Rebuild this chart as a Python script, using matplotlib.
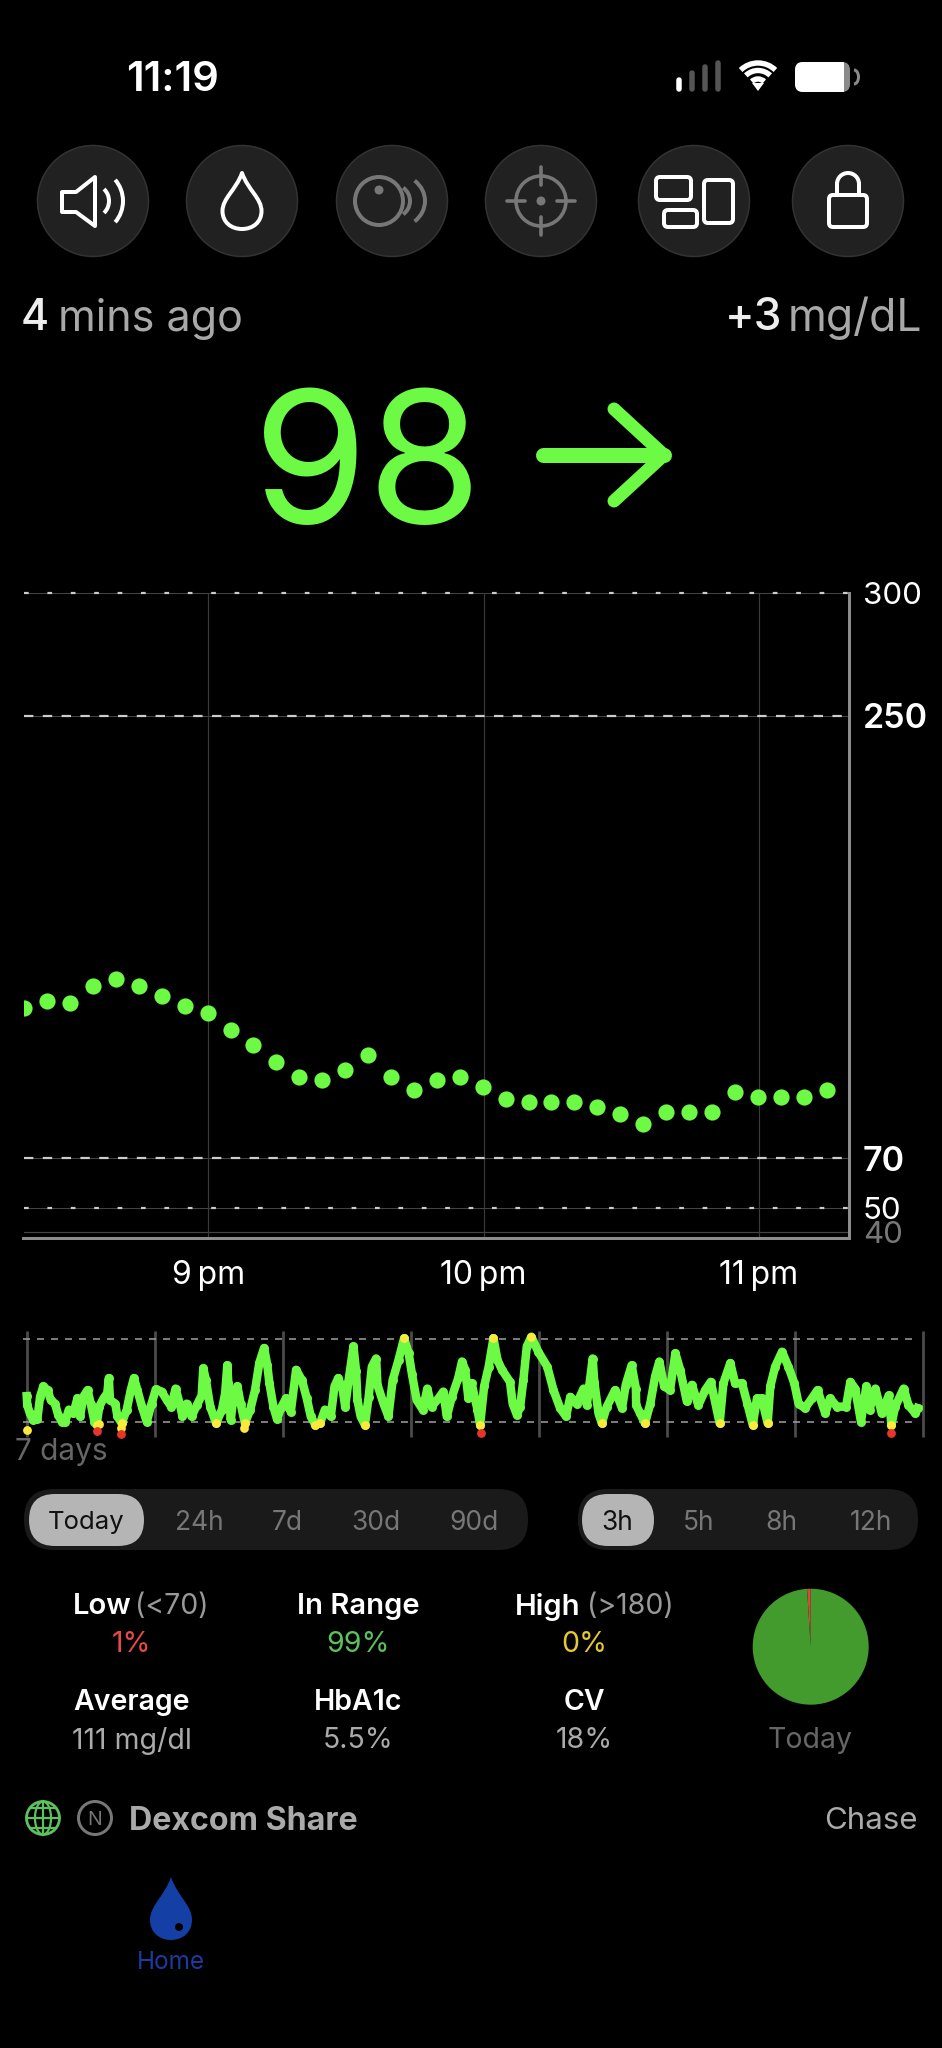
import matplotlib
matplotlib.use('Agg')
import matplotlib.pyplot as plt
from matplotlib.patches import Circle, Arc, FancyBboxPatch, PathPatch, Polygon, Rectangle
from matplotlib.path import Path

plt.rcParams['font.family'] = ['Inter', 'DejaVu Sans']
plt.rcParams['lines.scale_dashes'] = False
plt.rcParams['axes.unicode_minus'] = False

GREEN = '#6DFA45'
W, H = 942, 2048

# main chart: minutes after 9 pm, mg/dL
reading_minutes = [-40.2, -35.2, -30.2, -25.2, -20.2, -15.2, -10.2, -5.2, -0.2, 4.8, 9.8, 14.8,
                   19.8, 24.8, 29.8, 34.8, 39.8, 44.8, 49.8, 54.8, 59.8, 64.8, 69.8, 74.8,
                   79.8, 84.8, 89.8, 94.8, 99.8, 104.8, 109.8, 114.8, 119.8, 124.8, 129.8, 134.8]
reading_values = [131, 134, 133, 140, 143, 140, 136, 132, 129, 122, 116, 109,
                  103, 102, 106, 112, 103, 98, 102, 103, 99, 94, 93, 93,
                  93, 91, 88, 84, 89, 89, 89, 97, 95, 95, 95, 98]
main_yticks = [40, 50, 70, 250, 300]
main_xticks = [0, 60, 120]
main_xlabels = ['9\u2009pm', '10\u2009pm', '11\u2009pm']

# 7 day strip: hours since first tick, mg/dL
week_hours = [0.0, 0.1, 0.6, 1.25, 2.0, 2.5, 3.1, 3.9, 4.5, 5.3, 5.9, 6.6, 7.2, 7.9, 8.75, 9.5, 10.0, 10.6,
              11.4, 12.0, 12.7, 13.1, 13.6, 14.4, 15.1, 15.4, 15.6, 16.6, 17.0, 17.8, 18.75, 19.5, 20.1,
              20.75, 21.6, 22.5, 23.4, 24.2, 25.3, 26.25, 27.1, 27.9, 28.75, 29.2, 30.0, 30.9, 31.9, 32.8,
              33.1, 33.6, 34.4, 35.5, 36.6, 37.2, 37.6, 37.8, 38.25, 38.75, 39.5, 40.1, 40.9, 41.9, 42.8,
              43.6, 44.5, 45.1, 45.5, 46.25, 46.9, 47.8, 48.6, 49.5, 50.5, 51.6, 52.5, 53.25, 54.1, 55.0,
              55.9, 57.0, 57.7, 58.4, 59.25, 59.7, 60.3, 61.25, 61.75, 62.0, 62.6, 63.4, 64.1, 64.7, 65.5,
              65.75, 66.9, 67.8, 68.6, 69.7, 70.75, 71.6, 72.2, 73.1, 74.25, 75.1, 75.9, 77.2, 78.1, 78.75,
              79.7, 80.9, 81.6, 82.2, 82.8, 83.4, 84.5, 85.0, 85.75, 86.6, 87.5, 88.25, 89.1, 90.6, 91.1,
              91.9, 92.5, 93.1, 93.75, 94.6, 95.9, 97.6, 98.75, 100.0, 101.1, 101.9, 103.1, 104.4, 105.0,
              106.1, 106.4, 107.2, 107.8, 108.75, 110.3, 111.6, 112.3, 113.4, 114.2, 114.25, 115.0, 115.9,
              116.9, 117.8, 118.6, 119.5, 120.6, 121.6, 122.5, 123.75, 124.7, 125.9, 127.2, 128.25, 129.9,
              130.6, 131.9, 132.8, 134.1, 135.1, 136.1, 136.9, 137.8, 138.9, 139.4, 140.3, 141.6, 142.8,
              143.9, 144.7, 145.9, 147.2, 148.25, 149.7, 150.6, 151.9, 153.6, 154.4, 155.3, 156.4, 157.4,
              158.0, 159.1, 160.3, 161.6, 162.1, 162.8, 164.4, 165.3, 166.6, 167.0]
week_values = [104, 92, 81, 72, 74, 103, 117, 112, 99, 94, 79, 70, 70, 86, 81, 101, 77, 103,
               112, 94, 70, 66, 90, 101, 108, 128, 99, 94, 77, 68, 86, 112, 128,
               112, 90, 70, 94, 113, 110, 99, 90, 114, 92, 77, 94, 77, 92, 105,
               141, 125, 90, 68, 86, 108, 145, 121, 72, 103, 117, 94, 68, 86, 112,
               148, 168, 145, 121, 90, 74, 90, 101, 83, 139, 125, 101, 77, 66, 68,
               86, 77, 117, 128, 112, 90, 123, 170, 137, 99, 77, 66, 103, 143, 154,
               119, 94, 77, 125, 152, 181, 161, 134, 99, 86, 114, 90, 101, 110, 77,
               103, 128, 150, 139, 101, 121, 86, 66, 117, 143, 181, 152, 139, 123, 94,
               79, 90, 125, 170, 183, 163, 143, 112, 88, 77, 103, 94, 114, 92,
               154, 123, 81, 68, 90, 112, 88, 119, 145, 114, 92, 81, 68,
               94, 130, 150, 117, 112, 161, 139, 97, 119, 92, 112, 123, 68,
               121, 148, 121, 121, 94, 66, 101, 101, 68, 117, 143, 163, 143,
               121, 94, 88, 101, 112, 81, 101, 90, 90, 123, 114, 70, 117,
               86, 114, 81, 105, 66, 90, 114, 92, 81, 88]
low_hours = [0.0, 13.1, 13.6, 17.6, 17.6, 40.8, 85.25, 162.1]
low_values = [59, 57, 67, 54, 62, 61, 55, 55]
day_ticks = [0, 24, 48, 72, 96, 120, 144, 168]

# summary
pie_values = [1, 99, 0]
range_tabs = ['24h', '7d', '30d', '90d']
range_tab_x = [199, 287, 376, 474]
hour_tabs = ['5h', '8h', '12h']
hour_tab_x = [699, 781, 871]
stat_x = [132, 358, 584]
stat_titles = ['Average', 'HbA1c', 'CV']
stat_values = ['111 mg/dl', '5.5%', '18%']


def px(v):
    return v * 0.72


def axes_px(x0, y0, x1, y1):
    return fig.add_axes([x0 / W, 1 - y1 / H, (x1 - x0) / W, (y1 - y0) / H])


def drop_path(cx, top, bottom, hw):
    h = bottom - top
    verts = [(cx, top), (cx + .3 * hw, top + .3 * h), (cx + hw, top + .45 * h), (cx + hw, top + .68 * h),
             (cx + hw, top + .88 * h), (cx + .55 * hw, bottom), (cx, bottom),
             (cx - .55 * hw, bottom), (cx - hw, top + .88 * h), (cx - hw, top + .68 * h),
             (cx - hw, top + .45 * h), (cx - .3 * hw, top + .3 * h), (cx, top), (cx, top)]
    codes = [Path.MOVETO] + [Path.CURVE4] * 12 + [Path.CLOSEPOLY]
    return Path(verts, codes)


def rrect(x0, y0, x1, y1, r, **kw):
    return FancyBboxPatch((x0 + r, y0 + r), x1 - x0 - 2 * r, y1 - y0 - 2 * r,
                          boxstyle='round,pad=%f,rounding_size=%f' % (r, r), **kw)


fig = plt.figure(figsize=(W / 100, H / 100), dpi=100, facecolor='black')

# main glucose chart
ax = axes_px(23.5, 592.6, 849, 1238)
ax.set_facecolor('black')
ax.set_xlim(-40.35, 139.7)
ax.set_ylim(37.65, 300)
for v in [70, 250]:
    ax.axhline(v, color='#444444', lw=px(1), zorder=1)
    ax.axhline(v, color='#cccccc', lw=px(2.2), ls=(0, (px(9.4), px(9.4))), zorder=1.5)
for v in [50, 300]:
    ax.axhline(v, color='#444444', lw=px(1), zorder=1, clip_on=False)
    ax.axhline(v, color='#cccccc', lw=px(2.2), ls=(0, (px(4.7), px(18.7))), zorder=1.5, clip_on=False)
ax.axhline(40, color='#444444', lw=px(1.2), zorder=1)
for m in main_xticks:
    ax.axvline(m, color='#3a3a3a', lw=px(1.2), zorder=1)
ax.scatter(reading_minutes, reading_values, s=136, color=GREEN, linewidths=0, zorder=3)
for s in ['top', 'left']:
    ax.spines[s].set_visible(False)
for s in ['right', 'bottom']:
    ax.spines[s].set_color('#8c8c8c')
    ax.spines[s].set_linewidth(px(3))
ax.set_xticks(main_xticks, main_xlabels)
ax.set_yticks(main_yticks, [str(v) for v in main_yticks])
ax.yaxis.tick_right()
ax.tick_params(axis='x', length=0, pad=16, labelsize=23, labelcolor='white')
ax.tick_params(axis='y', length=0, pad=10)
for lab, v in zip(ax.get_yticklabels(), main_yticks):
    lab.set_fontsize(24.5 if v in (70, 250) else 22.5)
    lab.set_color('#777777' if v == 40 else 'white')
    lab.set_fontweight(600 if v in (70, 250) else 400)

# 7 day strip
wk = axes_px(20, 1330, 925, 1440)
wk.set_facecolor('none')
wk.set_xlim(-1.26, 168.4)
wk.set_ylim(45.7, 191.9)
wk.axis('off')
wk.vlines(day_ticks, 50, 191, color='#4a4a4a', lw=px(2.8), zorder=1)
for v in [70, 180]:
    wk.plot([-0.64, 167], [v, v], color='#999999', lw=px(1.6), ls=(0, (px(7), px(7))), zorder=1.5)
wk.plot(week_hours, week_values, color=GREEN, lw=px(8.5), solid_joinstyle='round', zorder=2)
wk.scatter(week_hours, week_values, s=42, color=GREEN, linewidths=0, zorder=3)
all_h = week_hours + low_hours
all_v = week_values + low_values
yellow = [(h, v) for h, v in zip(all_h, all_v) if v >= 178 or 58 <= v <= 68]
red = [(h, v) for h, v in zip(all_h, all_v) if v < 58]
wk.scatter([p[0] for p in yellow], [p[1] for p in yellow], s=40, color='#FFE83C', linewidths=0, zorder=4)
wk.scatter([p[0] for p in red], [p[1] for p in red], s=40, color='#E8352B', linewidths=0, zorder=4)

# pie
pie_ax = axes_px(752.7, 1588.7, 868.7, 1704.7)
pie_ax.pie(pie_values, colors=['#D9483B', '#439A2D', '#E6C833'], startangle=90, radius=1,
           wedgeprops={'linewidth': 0})
pie_ax.set_xlim(-1, 1)
pie_ax.set_ylim(-1, 1)

# everything else sits on a pixel canvas
ui = fig.add_axes([0, 0, 1, 1], zorder=5)
ui.set_xlim(0, W)
ui.set_ylim(H, 0)
ui.axis('off')
ui.patch.set_alpha(0)


def label(x, y, s, size, color='white', ha='center', weight=400):
    ui.text(x, y, s, fontsize=size, color=color, ha=ha, va='center_baseline', fontweight=weight)


# status bar
label(173, 76, '11:19', 30, weight=600)
for x, top, c in [(678.5, 80, 'white'), (691.5, 73, '#555555'), (704.5, 67, '#555555'), (717.5, 63, '#555555')]:
    ui.plot([x, x], [top, 89], color=c, lw=px(5.5), solid_capstyle='round')
for r in [9, 17.5, 25]:
    ui.add_patch(Arc((758, 88), 2 * r, 2 * r, theta1=226, theta2=314, color='white', lw=px(5.4)))
ui.add_patch(Polygon([(752, 83), (764, 83), (758, 91)], color='white', lw=0))
ui.add_patch(rrect(795, 62, 850, 92, 8, fc='#8a8a8a', ec='none'))
white_part = rrect(795, 62, 850, 92, 8, fc='white', ec='none')
clip = Rectangle((795, 62), 49, 30, transform=ui.transData)
ui.add_patch(white_part)
white_part.set_clip_path(clip)
ui.add_patch(Arc((854, 77), 9, 14, theta1=-90, theta2=90, color='#8a8a8a', lw=px(3)))

# round buttons
for cx in [93, 242, 392, 541, 694, 848]:
    ui.add_patch(Circle((cx, 201), 55.5, fc='#212121', ec='#333333', lw=px(1.5)))

w3 = dict(fc='none', ec='white', lw=px(4), joinstyle='round')
g3 = '#777777'
# speaker
ui.add_patch(Polygon([(62, 192), (76, 192), (95, 177), (95, 226), (76, 212), (62, 212)], closed=True, **w3))
ui.add_patch(Arc((94, 201), 30, 32, theta1=-50, theta2=50, color='white', lw=px(4)))
ui.add_patch(Arc((94, 201), 58, 62, theta1=-45, theta2=45, color='white', lw=px(4)))
# drop
ui.add_patch(PathPatch(drop_path(242, 173, 229, 19.5), **w3))
# sensor
ui.add_patch(Circle((379, 201), 24, fc='none', ec=g3, lw=px(4)))
ui.add_patch(Circle((379, 190), 4.5, fc=g3, ec='none'))
ui.add_patch(Arc((392, 201), 36, 34, theta1=-50, theta2=50, color=g3, lw=px(4)))
ui.add_patch(Arc((392, 201), 66, 56, theta1=-42, theta2=42, color=g3, lw=px(4)))
# crosshair
ui.add_patch(Circle((541, 201), 25, fc='none', ec=g3, lw=px(3.6)))
ui.add_patch(Circle((541, 201), 4.5, fc=g3, ec='none'))
for a, b in [((541, 167), (541, 185)), ((541, 217), (541, 235)), ((507, 201), (525, 201)), ((557, 201), (575, 201))]:
    ui.plot([a[0], b[0]], [a[1], b[1]], color=g3, lw=px(3.6), solid_capstyle='round')
# layout
ui.add_patch(rrect(656, 177, 691, 200, 4, **w3))
ui.add_patch(rrect(664, 210, 697, 227, 4, **w3))
ui.add_patch(rrect(704, 180, 733, 223, 4, **w3))
# lock
ui.add_patch(rrect(829, 195, 867, 227, 4, **w3))
ui.add_patch(Arc((848, 184), 22, 22, theta1=180, theta2=360, color='white', lw=px(4)))
ui.plot([837, 837], [184, 195], color='white', lw=px(4))
ui.plot([859, 859], [184, 195], color='white', lw=px(4))

# readout row
label(21, 314, '4', 31, color='#eeeeee', ha='left', weight=500)
label(58, 314, 'mins ago', 31, color='#a8a8a8', ha='left')
label(725, 314, '+3', 32, color='#eeeeee', ha='left', weight=500)
label(922, 314, 'mg/dL', 32, color='#a8a8a8', ha='right')

# big value and trend arrow
label(367, 456, '98', 133, color=GREEN, weight=400)
ui.plot([543, 664], [455, 455], color=GREEN, lw=px(15), solid_capstyle='round')
ui.plot([614, 664, 614], [409, 455, 501], color=GREEN, lw=px(13), solid_capstyle='round',
        solid_joinstyle='round')

label(15, 1449, '7 days', 21.5, color='#666666', ha='left')

# segmented controls
ui.add_patch(rrect(24, 1489, 528, 1550, 30, fc='#1a1a1a', ec='none'))
ui.add_patch(rrect(29, 1494, 144, 1546, 26, fc='#b5b5b5', ec='none'))
label(86, 1520, 'Today', 18.5, color='#111111')
for x, s in zip(range_tab_x, range_tabs):
    label(x, 1520, s, 19, color='#777777')
ui.add_patch(rrect(578, 1489, 918, 1550, 30, fc='#1a1a1a', ec='none'))
ui.add_patch(rrect(582, 1494, 654, 1546, 26, fc='#b5b5b5', ec='none'))
label(617, 1520, '3h', 19, color='#111111')
for x, s in zip(hour_tab_x, hour_tabs):
    label(x, 1520, s, 19, color='#777777')

# stats
label(73, 1604, 'Low', 21, ha='left', weight=600)
label(135, 1604, '(<70)', 20.5, color='#999999', ha='left')
label(358, 1604, 'In Range', 21, weight=600)
label(515, 1604, 'High', 21, ha='left', weight=600)
label(587, 1604, '(>180)', 20.5, color='#999999', ha='left')
label(131, 1642, '1%', 20.5, color='#E84A45')
label(358, 1642, '99%', 20.5, color='#5CC25C')
label(584, 1642, '0%', 20.5, color='#E6C833')
for x, t, v in zip(stat_x, stat_titles, stat_values):
    label(x, 1700, t, 20.5, weight=600)
    label(x, 1738, v, 20.5, color='#aaaaaa')
label(810, 1738, 'Today', 20.5, color='#666666')

# source row
ui.add_patch(Circle((43, 1818), 16.5, fc='none', ec='#5CC25C', lw=px(2.8)))
ui.add_patch(Arc((43, 1818), 16, 33, color='#5CC25C', lw=px(2.2)))
ui.plot([27, 59], [1818, 1818], color='#5CC25C', lw=px(2.2))
ui.plot([30, 56], [1808, 1808], color='#5CC25C', lw=px(2.2))
ui.plot([30, 56], [1828, 1828], color='#5CC25C', lw=px(2.2))
ui.plot([43, 43], [1801, 1835], color='#5CC25C', lw=px(2.2))
ui.add_patch(Circle((95, 1818), 16.5, fc='none', ec='#777777', lw=px(3)))
label(95, 1818, 'N', 14, color='#777777')
label(129, 1818, 'Dexcom Share', 23.2, color='#aaaaaa', ha='left', weight=700)
label(918, 1818, 'Chase', 22.5, color='#aaaaaa', ha='right')

# tab bar
ui.add_patch(PathPatch(drop_path(171, 1877, 1940, 21), fc='#1440A5', ec='none'))
ui.add_patch(Circle((179, 1927), 4, fc='black', ec='none'))
label(171, 1960, 'Home', 17.5, color='#1C3A9F')

fig.savefig('out.png', dpi=100, facecolor='black')
